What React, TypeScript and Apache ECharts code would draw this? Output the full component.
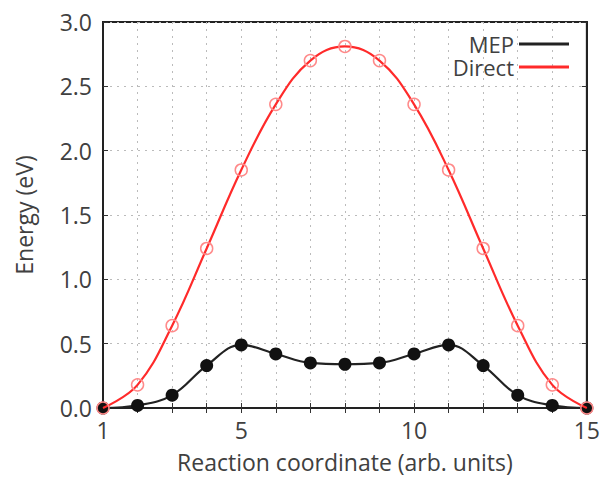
import React, { useEffect, useRef } from "react";
import * as echarts from "echarts";

const xValues = [1, 2, 3, 4, 5, 6, 7, 8, 9, 10, 11, 12, 13, 14, 15];
const mepValues = [0.0, 0.02, 0.1, 0.33, 0.49, 0.42, 0.35, 0.34, 0.35, 0.42, 0.49, 0.33, 0.1, 0.02, 0.0];
const directValues = [0.0, 0.18, 0.64, 1.24, 1.85, 2.36, 2.7, 2.81, 2.7, 2.36, 1.85, 1.24, 0.64, 0.18, 0.0];
const xTickLabels = [1, 5, 10, 15];

const FONT = "'Open Sans', 'Noto Sans', sans-serif";
const TEXT = "#404040";

export default function App() {
  const ref = useRef<HTMLDivElement>(null);
  useEffect(() => {
    if (!ref.current) return;
    const chart = echarts.init(ref.current, undefined, { renderer: "svg" });
    const mep = xValues.map((x, i) => [x, mepValues[i]]);
    const direct = xValues.map((x, i) => [x, directValues[i]]);
    const tickStyle = { show: true, inside: true, length: 5, lineStyle: { color: "#333", width: 1 } };
    chart.setOption({
      animation: false,
      backgroundColor: "#fff",
      textStyle: { fontFamily: FONT },
      grid: { left: 103, right: 13, top: 22, bottom: 66, show: true, borderColor: "#222", borderWidth: 2, backgroundColor: "transparent" },
      legend: {
        right: 34,
        top: 33,
        padding: 0,
        orient: "vertical",
        align: "right",
        icon: "rect",
        itemWidth: 50,
        itemHeight: 3,
        itemGap: 1,
        textStyle: { fontSize: 22, lineHeight: 22, color: TEXT, fontFamily: FONT, padding: [0, 0, 0, 0] },
        data: [
          { name: "MEP", itemStyle: { color: "#222", borderWidth: 0 } },
          { name: "Direct", itemStyle: { color: "#ff2a2a", borderWidth: 0 } },
        ],
      },
      xAxis: [
        {
          type: "value",
          min: 1,
          max: 15,
          interval: 1,
          name: "Reaction coordinate (arb. units)",
          nameLocation: "middle",
          nameGap: 42,
          nameTextStyle: { fontSize: 23, color: TEXT, fontFamily: FONT },
          axisLine: { show: true, onZero: false, lineStyle: { color: "#222", width: 2 } },
          axisTick: tickStyle,
          axisLabel: {
            fontSize: 23,
            color: TEXT,
            fontFamily: FONT,
            margin: 10,
            formatter: (v: number) => (xTickLabels.includes(v) ? String(v) : ""),
          },
          splitLine: { show: true, lineStyle: { color: "#bbb", type: [2, 5], width: 1 } },
        },
        {
          type: "value",
          position: "top",
          min: 1,
          max: 15,
          interval: 1,
          axisLine: { show: true, lineStyle: { color: "#222", width: 2 } },
          axisTick: tickStyle,
          axisLabel: { show: false },
          splitLine: { show: false },
        },
      ],
      yAxis: [
        {
          type: "value",
          min: 0,
          max: 3,
          interval: 0.5,
          name: "Energy (eV)",
          nameLocation: "middle",
          nameGap: 68,
          nameTextStyle: { fontSize: 23, color: TEXT, fontFamily: FONT },
          axisLine: { show: true, onZero: false, lineStyle: { color: "#222", width: 2 } },
          axisTick: tickStyle,
          axisLabel: { fontSize: 23, color: TEXT, fontFamily: FONT, margin: 11, formatter: (v: number) => v.toFixed(1) },
          splitLine: { show: true, lineStyle: { color: "#bbb", type: [2, 5], width: 1 } },
        },
        {
          type: "value",
          position: "right",
          min: 0,
          max: 3,
          interval: 0.5,
          axisLine: { show: true, lineStyle: { color: "#222", width: 2 } },
          axisTick: tickStyle,
          axisLabel: { show: false },
          splitLine: { show: false },
        },
      ],
      series: [
        {
          name: "MEP",
          type: "line",
          data: mep,
          smooth: 0.4,
          symbol: "circle",
          symbolSize: 13,
          lineStyle: { color: "#222", width: 2.2 },
          itemStyle: { color: "#111" },
          z: 2,
        },
        {
          name: "Direct",
          type: "line",
          data: direct,
          smooth: 0.4,
          symbol: "circle",
          symbolSize: 12,
          lineStyle: { color: "#ff2a2a", width: 2.2 },
          itemStyle: { color: "rgba(255,255,255,0)", borderColor: "#ff8a8a", borderWidth: 1.5 },
          z: 3,
        },
      ],
    });
    return () => chart.dispose();
  }, []);
  return <div ref={ref} style={{ width: 603, height: 478, position: "absolute", left: 0, top: 0 }} />;
}
